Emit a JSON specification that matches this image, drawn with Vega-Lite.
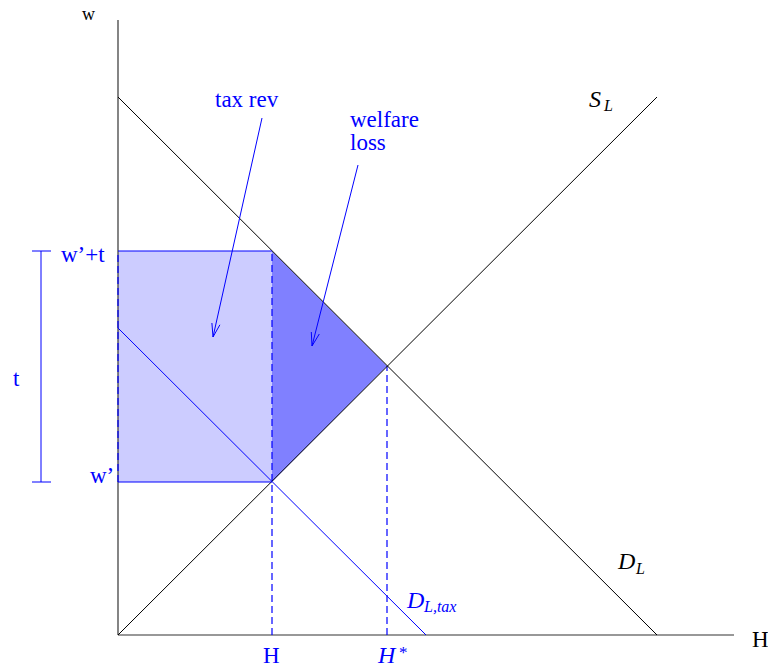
{
  "$schema": "https://vega.github.io/schema/vega-lite/v6.json",
  "width": 768,
  "height": 670,
  "autosize": "none",
  "padding": 0,
  "background": "white",
  "config": {"view": {"stroke": null}},
  "encoding": {
    "x": {"field": "x", "type": "quantitative", "scale": {"domain": [-118, 650], "nice": false, "zero": false}, "axis": null},
    "y": {"field": "y", "type": "quantitative", "scale": {"domain": [-35, 635], "nice": false, "zero": false}, "axis": null}
  },
  "layer": [
    {
      "data": {"values": [{"x": 0, "y": 153, "x2": 154, "y2": 384}]},
      "mark": {"type": "rect", "fill": "#ccccff"},
      "encoding": {"x2": {"field": "x2"}, "y2": {"field": "y2"}}
    },
    {
      "data": {"values": [{"x": 154, "y": 384, "y2": 153}, {"x": 269, "y": 269, "y2": 269}]},
      "mark": {"type": "area", "fill": "#8080ff", "orient": "vertical"},
      "encoding": {"y2": {"field": "y2"}}
    },
    {
      "data": {"values": [{"x": 0, "y": 0, "x2": 0, "y2": 615}, {"x": 0, "y": 0, "x2": 616, "y2": 0}]},
      "mark": {"type": "rule", "stroke": "#333333", "strokeWidth": 1.2},
      "encoding": {"x2": {"field": "x2"}, "y2": {"field": "y2"}}
    },
    {
      "data": {"values": [{"x": 0, "y": 153, "x2": 0, "y2": 384}, {"x": 154, "y": 0, "x2": 154, "y2": 384}, {"x": 269, "y": 0, "x2": 269, "y2": 269}]},
      "mark": {"type": "rule", "stroke": "#0000ff", "strokeWidth": 1.2, "strokeDash": [7, 4]},
      "encoding": {"x2": {"field": "x2"}, "y2": {"field": "y2"}}
    },
    {
      "data": {"values": [{"x": 0, "y": 0, "x2": 539, "y2": 538}, {"x": 0, "y": 538, "x2": 539, "y2": 0}]},
      "mark": {"type": "rule", "stroke": "#000000", "strokeWidth": 1},
      "encoding": {"x2": {"field": "x2"}, "y2": {"field": "y2"}}
    },
    {
      "data": {"values": [
        {"x": 0, "y": 307, "x2": 308, "y2": 0},
        {"x": 0, "y": 384, "x2": 154, "y2": 384},
        {"x": 0, "y": 153, "x2": 154, "y2": 153},
        {"x": -77, "y": 153, "x2": -77, "y2": 384},
        {"x": -86, "y": 384, "x2": -67, "y2": 384},
        {"x": -86, "y": 153, "x2": -67, "y2": 153},
        {"x": 144, "y": 517, "x2": 95, "y2": 298},
        {"x": 95, "y": 298, "x2": 101.9, "y2": 310.2},
        {"x": 95, "y": 298, "x2": 93.9, "y2": 312},
        {"x": 240, "y": 470, "x2": 194, "y2": 289},
        {"x": 194, "y": 289, "x2": 201.3, "y2": 301},
        {"x": 194, "y": 289, "x2": 193.3, "y2": 303}
      ]},
      "mark": {"type": "rule", "stroke": "#0000ff", "strokeWidth": 1},
      "encoding": {"x2": {"field": "x2"}, "y2": {"field": "y2"}}
    },
    {
      "data": {"values": [
        {"x": 145, "y": -28, "label": "H"},
        {"x": -57, "y": 373, "label": "w’+t"},
        {"x": -28, "y": 152, "label": "w’"},
        {"x": -105, "y": 249, "label": "t"},
        {"x": 97, "y": 528, "label": "tax rev"},
        {"x": 232, "y": 508, "label": "welfare"},
        {"x": 232, "y": 485, "label": "loss"}
      ]},
      "mark": {"type": "text", "align": "left", "baseline": "alphabetic", "font": "Liberation Serif", "fontSize": 23, "fill": "#0000ff"},
      "encoding": {"text": {"field": "label"}}
    },
    {
      "data": {"values": [{"x": 289, "y": 27, "label": "D"}, {"x": 260, "y": -28, "label": "H"}]},
      "mark": {"type": "text", "align": "left", "baseline": "alphabetic", "font": "Liberation Serif", "fontStyle": "italic", "fontSize": 24, "fill": "#0000ff"},
      "encoding": {"text": {"field": "label"}}
    },
    {
      "data": {"values": [{"x": 306, "y": 23, "label": "L,tax"}]},
      "mark": {"type": "text", "align": "left", "baseline": "alphabetic", "font": "Liberation Serif", "fontStyle": "italic", "fontSize": 16, "fill": "#0000ff"},
      "encoding": {"text": {"field": "label"}}
    },
    {
      "data": {"values": [{"x": 281, "y": -23, "label": "*"}]},
      "mark": {"type": "text", "align": "left", "baseline": "alphabetic", "font": "Liberation Serif", "fontSize": 17, "fill": "#0000ff"},
      "encoding": {"text": {"field": "label"}}
    },
    {
      "data": {"values": [{"x": 471, "y": 528, "label": "S"}, {"x": 500, "y": 66, "label": "D"}]},
      "mark": {"type": "text", "align": "left", "baseline": "alphabetic", "font": "Liberation Serif", "fontStyle": "italic", "fontSize": 24, "fill": "#000000"},
      "encoding": {"text": {"field": "label"}}
    },
    {
      "data": {"values": [{"x": 486, "y": 524, "label": "L"}, {"x": 518, "y": 61, "label": "L"}]},
      "mark": {"type": "text", "align": "left", "baseline": "alphabetic", "font": "Liberation Serif", "fontStyle": "italic", "fontSize": 16, "fill": "#000000"},
      "encoding": {"text": {"field": "label"}}
    },
    {
      "data": {"values": [{"x": 634, "y": -12, "label": "H"}]},
      "mark": {"type": "text", "align": "left", "baseline": "alphabetic", "font": "Liberation Serif", "fontSize": 23, "fill": "#000000"},
      "encoding": {"text": {"field": "label"}}
    },
    {
      "data": {"values": [{"x": -36, "y": 615, "label": "w"}]},
      "mark": {"type": "text", "align": "left", "baseline": "alphabetic", "font": "Liberation Serif", "fontSize": 18, "fill": "#000000"},
      "encoding": {"text": {"field": "label"}}
    }
  ]
}
